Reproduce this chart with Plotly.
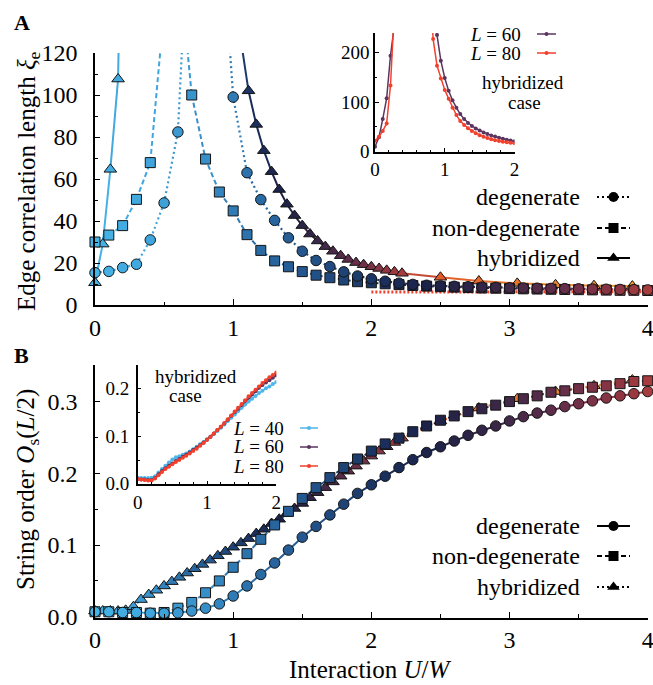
import plotly.graph_objects as go

W, H = 653, 685
FONT = "Liberation Serif, Tinos, Times New Roman, Times, DejaVu Serif, serif"

# ---------------- data: panel A, edge correlation length ----------------
U_deg_A = [0.0, 0.1, 0.2, 0.3, 0.4, 0.5, 0.6, 0.7, 0.9, 1.0, 1.1, 1.2, 1.3, 1.4, 1.5,
           1.6, 1.7, 1.8, 1.9, 2.0, 2.1, 2.2, 2.3, 2.4, 2.5, 2.6, 2.7, 2.8, 2.9, 3.0,
           3.1, 3.2, 3.3, 3.4, 3.5, 3.6, 3.7, 3.8, 3.9, 4.0]
xi_deg = [15.4, 16.0, 17.8, 19.4, 31.0, 48.6, 82.4, 216.0, 194.5, 99.0, 63.0, 50.2, 40.3,
          32.0, 25.6, 21.2, 18.3, 15.8, 13.8, 12.5, 11.3, 10.4, 9.8, 9.4, 9.1, 8.9, 8.7,
          8.5, 8.4, 8.2, 8.1, 8.0, 7.9, 7.8, 7.7, 7.6, 7.5, 7.4, 7.3, 7.2]

U_grid = [0.0, 0.1, 0.2, 0.3, 0.4, 0.5, 0.6, 0.7, 0.8, 0.9, 1.0, 1.1, 1.2, 1.3, 1.4, 1.5,
          1.6, 1.7, 1.8, 1.9, 2.0, 2.1, 2.2, 2.3, 2.4, 2.5, 2.6, 2.7, 2.8, 2.9, 3.0, 3.1,
          3.2, 3.3, 3.4, 3.5, 3.6, 3.7, 3.8, 3.9, 4.0]
xi_nondeg = [30.0, 33.3, 37.8, 50.3, 67.8, 141.0, 169.0, 100.0, 69.5, 53.8, 44.8, 33.5,
             26.0, 21.0, 18.2, 15.9, 14.2, 13.0, 11.9, 11.1, 10.6, 10.1, 9.7, 9.3, 9.0,
             8.7, 8.5, 8.3, 8.1, 8.0, 7.8, 7.7, 7.6, 7.5, 7.4, 7.3, 7.2, 7.1, 7.0, 7.0, 6.9]

U_hyb_A = [0.000, 0.056, 0.111, 0.167, 0.222, 1.056, 1.111, 1.167, 1.222, 1.278, 1.333,
           1.389, 1.444, 1.500, 1.556, 1.611, 1.667, 1.722, 1.778, 1.833, 1.889, 1.944,
           2.000, 2.056, 2.111, 2.167, 2.222, 2.500, 2.778, 3.056, 3.333, 3.611, 3.889]
xi_hyb = [10.6, 29.0, 64.6, 107.6, 314.0, 126.0, 102.0, 86.0, 73.5, 63.5, 55.0, 48.0,
          42.6, 37.8, 33.8, 30.5, 27.8, 25.6, 23.5, 21.7, 20.2, 19.2, 18.2, 17.4, 16.5,
          15.8, 15.1, 13.2, 11.4, 10.3, 9.6, 9.2, 9.0]

U_floor = [2.0, 2.5, 3.0, 3.5, 4.0]
xi_floor = [6.2, 6.2, 6.3, 6.3, 6.3]

# inset A: hybridized case, two system sizes
U_in_A_60 = [0.000, 0.056, 0.111, 0.167, 0.222, 0.278, 0.833, 0.889, 0.944, 1.000, 1.056,
             1.111, 1.167, 1.222, 1.278, 1.333, 1.389, 1.444, 1.500, 1.556, 1.611, 1.667,
             1.722, 1.778, 1.833, 1.889, 1.944, 2.000]
xi_in_60 = [10, 29, 66, 108, 194, 256, 400, 236, 184, 149, 123, 104, 89, 76, 66, 58, 52,
            47, 43, 39, 36, 33, 30.5, 28, 26, 24, 22.5, 21]
U_in_A_80 = [0.000, 0.056, 0.111, 0.167, 0.222, 0.278, 0.778, 0.833, 0.889, 0.944, 1.000,
             1.056, 1.111, 1.167, 1.222, 1.278, 1.333, 1.389, 1.444, 1.500, 1.556, 1.611,
             1.667, 1.722, 1.778, 1.833, 1.889, 1.944, 2.000]
xi_in_80 = [22, 30, 42, 57, 134, 289, 400, 228, 174, 148, 125, 107, 89, 74, 62, 54, 47.5,
            42, 37.5, 33.5, 30, 27.5, 25, 23, 21.5, 20, 19, 18, 17]

# ---------------- data: panel B, string order ----------------
O_deg = [0.007, 0.007, 0.006, 0.006, 0.005, 0.005, 0.0055, 0.008, 0.012, 0.018,
         0.029, 0.043, 0.059, 0.075, 0.093, 0.111, 0.126, 0.142, 0.157, 0.172,
         0.184, 0.196, 0.208, 0.219, 0.229, 0.237, 0.245, 0.253, 0.260, 0.266,
         0.273, 0.279, 0.284, 0.288, 0.293, 0.297, 0.301, 0.305, 0.308, 0.311, 0.314]
O_nondeg = [0.007, 0.007, 0.006, 0.006, 0.005, 0.006, 0.012, 0.020, 0.0335, 0.050,
            0.069, 0.088, 0.108, 0.128, 0.147, 0.165, 0.180, 0.194, 0.208, 0.220,
            0.231, 0.241, 0.249, 0.258, 0.266, 0.274, 0.280, 0.286, 0.290, 0.295,
            0.300, 0.304, 0.308, 0.313, 0.315, 0.318, 0.320, 0.322, 0.325, 0.328, 0.329]
U_hyb_B = [0.000, 0.056, 0.111, 0.167, 0.222, 0.278, 0.333, 0.389, 0.444, 0.500, 0.556,
           0.611, 0.667, 0.722, 0.778, 0.833, 0.889, 0.944, 1.000, 1.056, 1.111, 1.167,
           1.222, 1.278, 1.333, 1.389, 1.444, 1.500, 1.556, 1.611, 1.667, 1.722, 1.778,
           1.833, 1.889, 1.944, 2.000, 2.056, 2.111, 2.167, 2.222, 2.500, 2.778, 3.056,
           3.333, 3.611, 3.889]
O_hyb = [0.008, 0.008, 0.008, 0.008, 0.009, 0.014, 0.024, 0.031, 0.037, 0.043,
         0.049, 0.055, 0.061, 0.067, 0.073, 0.079, 0.085, 0.091, 0.097, 0.103,
         0.109, 0.116, 0.122, 0.130, 0.136, 0.144, 0.151, 0.158, 0.166, 0.173,
         0.180, 0.188, 0.196, 0.203, 0.210, 0.217, 0.224, 0.231, 0.237, 0.243,
         0.249, 0.273, 0.291, 0.304, 0.314, 0.322, 0.330]

# inset B: hybridized case, three system sizes
U_in_B = [0.00, 0.05, 0.10, 0.15, 0.20, 0.25, 0.30, 0.35, 0.40, 0.45, 0.50, 0.55, 0.60,
          0.65, 0.70, 0.75, 0.80, 0.85, 0.90, 0.95, 1.00, 1.05, 1.10, 1.15, 1.20, 1.25,
          1.30, 1.35, 1.40, 1.45, 1.50, 1.55, 1.60, 1.65, 1.70, 1.75, 1.80, 1.85, 1.90,
          1.95, 2.00]
O_in_40 = [0.013, 0.012, 0.012, 0.012, 0.013, 0.016, 0.024, 0.031, 0.038, 0.045, 0.051,
           0.056, 0.058, 0.061, 0.064, 0.068, 0.073, 0.078, 0.083, 0.088, 0.093, 0.099,
           0.105, 0.111, 0.118, 0.125, 0.132, 0.139, 0.146, 0.153, 0.160, 0.167, 0.173,
           0.179, 0.185, 0.191, 0.196, 0.201, 0.205, 0.210, 0.214]
O_in_60 = [0.010, 0.009, 0.009, 0.008, 0.008, 0.012, 0.020, 0.027, 0.033, 0.038, 0.043,
           0.048, 0.052, 0.057, 0.061, 0.066, 0.071, 0.076, 0.081, 0.087, 0.093, 0.099,
           0.106, 0.113, 0.120, 0.127, 0.135, 0.143, 0.151, 0.158, 0.166, 0.174, 0.181,
           0.188, 0.195, 0.202, 0.208, 0.213, 0.218, 0.223, 0.228]
O_in_80 = [0.010, 0.009, 0.008, 0.007, 0.007, 0.011, 0.018, 0.025, 0.031, 0.036, 0.041,
           0.046, 0.050, 0.055, 0.059, 0.064, 0.069, 0.074, 0.080, 0.086, 0.092, 0.099,
           0.106, 0.113, 0.120, 0.128, 0.136, 0.144, 0.152, 0.160, 0.168, 0.176, 0.184,
           0.191, 0.198, 0.205, 0.212, 0.218, 0.224, 0.229, 0.234]

# ---------------- colours ----------------
CMAP = [(0.00, '#45b4e7'), (0.10, '#3fa5dc'), (0.20, '#378fc9'), (0.25, '#2f7bb5'),
        (0.30, '#2a6aa3'), (0.375, '#245790'), (0.45, '#1e4476'), (0.52, '#1a305e'),
        (0.60, '#1b2349'), (0.68, '#2c2446'), (0.75, '#422849'), (0.85, '#652e49'),
        (0.93, '#873444'), (1.00, '#a63c3d')]
HYB_TAIL = [(2.222, '#a63c3d'), (2.5, '#e05a2a'), (3.9, '#f2a032')]
C40, C60, C80 = '#4fb6ea', '#5b3460', '#f2402c'


def _rgb(h):
    return tuple(int(h[i:i + 2], 16) for i in (1, 3, 5))


def _interp(stops, t):
    t = min(max(t, stops[0][0]), stops[-1][0])
    for (t0, c0), (t1, c1) in zip(stops[:-1], stops[1:]):
        if t <= t1:
            f = (t - t0) / (t1 - t0)
            a, b = _rgb(c0), _rgb(c1)
            return 'rgb(%d,%d,%d)' % tuple(round(a[i] + (b[i] - a[i]) * f) for i in range(3))
    return stops[-1][1]


def col_main(u):
    return _interp(CMAP, u / 4.0)


def col_hyb(u):
    if u <= 2.222:
        return _interp(CMAP, u / 2.222)
    return _interp(HYB_TAIL, u)


fig = go.Figure()


def colored_line(x, y, colfn, dash, width, xa, ya):
    """Line whose colour follows U; neighbouring segments in the same 0.2-wide bin share a trace."""
    runs = []
    for i in range(len(x) - 1):
        key = round(0.5 * (x[i] + x[i + 1]) / 0.2)
        if runs and runs[-1][0] == key:
            runs[-1][1].append(i + 1)
        else:
            runs.append([key, [i, i + 1]])
    for key, idx in runs:
        mid = 0.5 * (x[idx[0]] + x[idx[-1]])
        fig.add_trace(go.Scatter(
            x=[x[i] for i in idx], y=[y[i] for i in idx], mode='lines',
            line=dict(color=colfn(mid), width=width, dash=dash),
            xaxis=xa, yaxis=ya, hoverinfo='skip', showlegend=False))


def markers(x, y, colfn, symbol, size, xa, ya, ymax):
    keep = [i for i in range(len(x)) if y[i] <= ymax]
    fig.add_trace(go.Scatter(
        x=[x[i] for i in keep], y=[y[i] for i in keep], mode='markers',
        marker=dict(symbol=symbol, size=size, color=[colfn(x[i]) for i in keep],
                    line=dict(color='#141414', width=1)),
        cliponaxis=False, xaxis=xa, yaxis=ya, hoverinfo='skip', showlegend=False))


DOT = '2px,3px'
DASH = '5px,3px'

# panel A lines
colored_line(U_hyb_A, xi_hyb, col_hyb, 'solid', 2, 'x', 'y')
colored_line(U_grid, xi_nondeg, col_main, DASH, 2, 'x', 'y')
colored_line(U_deg_A, xi_deg, col_main, DOT, 2.2, 'x', 'y')
fig.add_trace(go.Scatter(x=U_floor, y=xi_floor, mode='lines',
                         line=dict(color='#f2402c', width=3, dash='2px,2px'),
                         xaxis='x', yaxis='y', hoverinfo='skip', showlegend=False))
# panel A markers
markers(U_hyb_A, xi_hyb, col_hyb, 'triangle-up', 11, 'x', 'y', 120)
markers(U_grid, xi_nondeg, col_main, 'square', 10, 'x', 'y', 120)
markers(U_deg_A, xi_deg, col_main, 'circle', 10.5, 'x', 'y', 120)

# panel B lines
colored_line(U_hyb_B, O_hyb, col_hyb, DOT, 2.2, 'x2', 'y2')
colored_line(U_grid, O_nondeg, col_main, DASH, 2, 'x2', 'y2')
colored_line(U_grid, O_deg, col_main, 'solid', 2, 'x2', 'y2')
# panel B markers
markers(U_hyb_B, O_hyb, col_hyb, 'triangle-up', 11, 'x2', 'y2', 1)
markers(U_grid, O_nondeg, col_main, 'square', 10, 'x2', 'y2', 1)
markers(U_grid, O_deg, col_main, 'circle', 10.5, 'x2', 'y2', 1)

# insets
for ux, vy, c in [(U_in_A_60, xi_in_60, C60), (U_in_A_80, xi_in_80, C80)]:
    fig.add_trace(go.Scatter(x=ux, y=vy, mode='lines+markers',
                             line=dict(color=c, width=1.5), marker=dict(color=c, size=4),
                             xaxis='x3', yaxis='y3', hoverinfo='skip', showlegend=False))
for vy, c in [(O_in_40, C40), (O_in_60, C60), (O_in_80, C80)]:
    fig.add_trace(go.Scatter(x=U_in_B, y=vy, mode='lines+markers',
                             line=dict(color=c, width=1.5), marker=dict(color=c, size=4),
                             xaxis='x4', yaxis='y4', hoverinfo='skip', showlegend=False))

# ---------------- legends (drawn on a pixel-space overlay axis) ----------------
def legend_glyph(x0, x1, y, dash, symbol, size, color, width):
    fig.add_trace(go.Scatter(x=[x0, x1], y=[y, y], mode='lines',
                             line=dict(color=color, width=width, dash=dash),
                             xaxis='x5', yaxis='y5', hoverinfo='skip', showlegend=False))
    fig.add_trace(go.Scatter(x=[0.5 * (x0 + x1)], y=[y], mode='markers',
                             marker=dict(symbol=symbol, size=size, color=color),
                             cliponaxis=False, xaxis='x5', yaxis='y5',
                             hoverinfo='skip', showlegend=False))


legend_A = [('degenerate', DOT, 'circle', 197), ('non-degenerate', DASH, 'square', 228),
            ('hybridized', 'solid', 'triangle-up', 258)]
legend_B = [('degenerate', 'solid', 'circle', 526), ('non-degenerate', DASH, 'square', 556),
            ('hybridized', DOT, 'triangle-up', 587)]
ann = []


def px(x):
    return x / W


def py(y):
    return 1 - y / H


for lab, dsh, sym, yy in legend_A + legend_B:
    legend_glyph(597, 630, yy, dsh, sym, 10 if sym != 'triangle-up' else 11, 'black', 2)
    ann.append(dict(text=lab, x=px(582), y=py(yy), xanchor='right', yanchor='middle',
                    font=dict(size=24)))

for lab, c, yy in [('<i>L</i> = 60', C60, 34), ('<i>L</i> = 80', C80, 53)]:
    legend_glyph(537, 556, yy, 'solid', 'circle', 4, c, 1.5)
    ann.append(dict(text=lab, x=px(523), y=py(yy), xanchor='right', yanchor='middle',
                    font=dict(size=19)))
for lab, c, yy in [('<i>L</i> = 40', C40, 428), ('<i>L</i> = 60', C60, 447),
                   ('<i>L</i> = 80', C80, 466)]:
    legend_glyph(300, 318, yy, 'solid', 'circle', 4, c, 1.5)
    ann.append(dict(text=lab, x=px(286), y=py(yy), xanchor='right', yanchor='middle',
                    font=dict(size=19)))

ann += [
    dict(text='hybridized', x=px(523), y=py(83), xanchor='center', yanchor='middle',
         font=dict(size=19)),
    dict(text='case', x=px(524), y=py(102), xanchor='center', yanchor='middle',
         font=dict(size=19)),
    dict(text='hybridized', x=px(196), y=py(376), xanchor='center', yanchor='middle',
         font=dict(size=19)),
    dict(text='case', x=px(185), y=py(395), xanchor='center', yanchor='middle',
         font=dict(size=19)),
    dict(text='<b>A</b>', x=px(12), y=py(23), xanchor='left', yanchor='middle',
         font=dict(size=22)),
    dict(text='<b>B</b>', x=px(12), y=py(355), xanchor='left', yanchor='middle',
         font=dict(size=22)),
    dict(text='Edge correlation length <i>ξ</i><sub>e</sub>', x=px(28), y=py(181),
         textangle=-90, xanchor='center', yanchor='middle', font=dict(size=25)),
    dict(text='String order <i>O</i><sub>s</sub>(<i>L</i>/2)', x=px(27), y=py(490),
         textangle=-90, xanchor='center', yanchor='middle', font=dict(size=25)),
    dict(text='Interaction <i>U</i>/<i>W</i>', x=px(370), y=py(669), xanchor='center',
         yanchor='middle', font=dict(size=25)),
]
for a in ann:
    a.update(xref='paper', yref='paper', showarrow=False)
    a['font'].update(family=FONT, color='black')


def axis(domain, rng, dtick, minor, size, ticklen, **kw):
    d = dict(domain=domain, range=rng, dtick=dtick, tick0=0, showline=True,
             linecolor='black', linewidth=1.5, ticks='inside', ticklen=ticklen,
             tickwidth=1.2, tickcolor='black', showgrid=False, zeroline=False,
             automargin=False, ticklabeloverflow='allow',
             tickfont=dict(family=FONT, size=size, color='black'),
             minor=dict(dtick=minor, tick0=0, ticks='inside', ticklen=ticklen * 0.6,
                        tickwidth=1.2, tickcolor='black', showgrid=False),
             fixedrange=True)
    d.update(kw)
    return d


xdomA = [95 / W, 647.7 / W]
fig.update_layout(
    template='none',
    width=W, height=H, margin=dict(l=0, r=0, t=0, b=0, pad=0), autosize=False,
    paper_bgcolor='white', plot_bgcolor='rgba(0,0,0,0)', showlegend=False,
    font=dict(family=FONT, color='black'),
    xaxis=axis(xdomA, [0, 4], 1, 0.5, 24, 6, anchor='y'),
    yaxis=axis([py(305), py(53)], [0, 120], 20, 10, 24, 5, anchor='x',
               ticklabelstandoff=11),
    xaxis2=axis(xdomA, [0, 4], 1, 0.5, 24, 6, anchor='y2'),
    yaxis2=axis([py(617.5), py(365)], [-0.001, 0.351], 0.1, 0.05, 24, 5, anchor='x2',
                tickformat='.1f', ticklabelstandoff=11),
    xaxis3=axis([375 / W, 514.5 / W], [0, 2], 1, 0.2, 19, 4, anchor='y3'),
    yaxis3=axis([py(151.7), py(33)], [0, 240], 100, 50, 19, 4, anchor='x3'),
    xaxis4=axis([137.7 / W, 276.3 / W], [0, 2], 1, 0.2, 19, 4, anchor='y4'),
    yaxis4=axis([py(484.3), py(365)], [-0.001, 0.25], 0.1, 0.05, 19, 4, anchor='x4',
                tickformat='.1f', ticklabelstandoff=3),
    xaxis5=dict(domain=[0, 1], range=[0, W], visible=False, fixedrange=True, anchor='y5',
                automargin=False),
    yaxis5=dict(domain=[0, 1], range=[H, 0], visible=False, fixedrange=True, anchor='x5',
                automargin=False),
    annotations=ann,
)

fig.write_html("out.html")
